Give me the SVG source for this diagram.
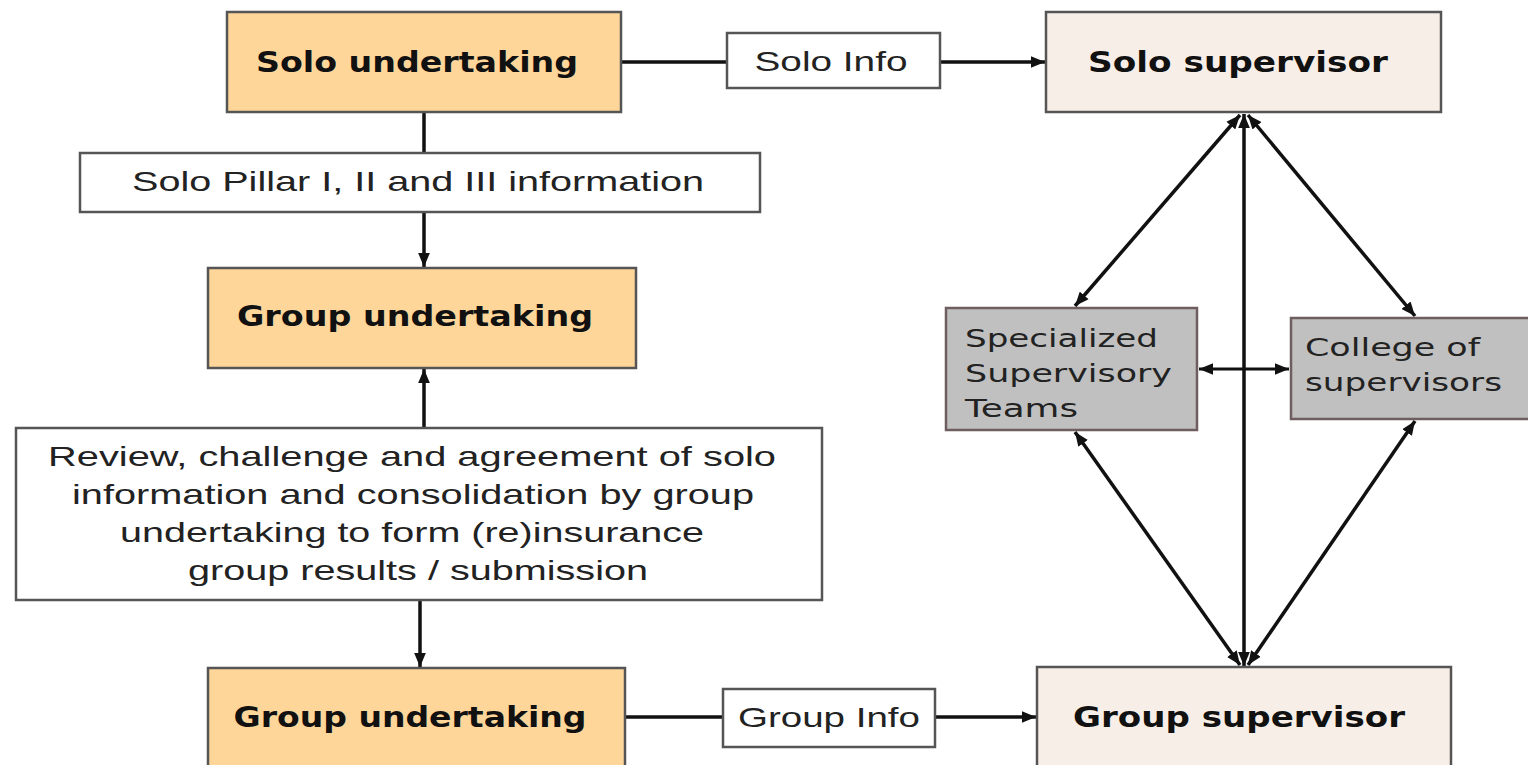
<svg xmlns="http://www.w3.org/2000/svg" width="1528" height="765" viewBox="0 0 1528 765">
<style>
.box{stroke:#555;stroke-width:2.5}
.und{fill:#FFD699}
.sup{fill:#F8EEE8}
.lbl{fill:#fff}
.grey{fill:#C0C0C0;stroke:#6e5e60}
.b{font-family:"DejaVu Sans",Verdana,sans-serif;font-weight:bold;font-size:28px;fill:#111}
.n{font-family:"Liberation Sans",Arial,sans-serif;font-size:28px;fill:#222}
.v{font-family:"DejaVu Sans",Verdana,sans-serif;font-size:25px;fill:#222}
.c{stroke:#111;stroke-width:3.5;fill:none}
.c2{stroke:#111;stroke-width:3;fill:none}
</style>
<defs>
<marker id="ah" viewBox="0 0 12 10" refX="12" refY="5" markerWidth="14" markerHeight="12" markerUnits="userSpaceOnUse" orient="auto-start-reverse">
<path d="M0,0 L12,5 L0,10 z" fill="#111"/>
</marker>
</defs>
<rect width="1528" height="765" fill="#fff"/>

<g id="connectors">
<line class="c" x1="621" y1="62" x2="727" y2="62"/>
<line class="c" x1="940" y1="62" x2="1045" y2="62" marker-end="url(#ah)"/>
<line class="c" x1="424" y1="112" x2="424" y2="153"/>
<line class="c" x1="424" y1="212" x2="424" y2="267" marker-end="url(#ah)"/>
<line class="c" x1="424" y1="428" x2="424" y2="369" marker-end="url(#ah)"/>
<line class="c" x1="420" y1="600" x2="420" y2="667" marker-end="url(#ah)"/>
<line class="c" x1="625" y1="717" x2="723" y2="717"/>
<line class="c" x1="935" y1="717" x2="1036" y2="717" marker-end="url(#ah)"/>
<line class="c" x1="1244" y1="114" x2="1244" y2="666" marker-start="url(#ah)" marker-end="url(#ah)"/>
<line class="c" x1="1240" y1="115" x2="1075" y2="306" marker-start="url(#ah)" marker-end="url(#ah)"/>
<line class="c" x1="1248" y1="115" x2="1415" y2="316" marker-start="url(#ah)" marker-end="url(#ah)"/>
<line class="c" x1="1075" y1="432" x2="1240" y2="665" marker-start="url(#ah)" marker-end="url(#ah)"/>
<line class="c" x1="1415" y1="421" x2="1248" y2="665" marker-start="url(#ah)" marker-end="url(#ah)"/>
<line class="c2" x1="1199" y1="369" x2="1289" y2="369" marker-start="url(#ah)" marker-end="url(#ah)"/>
</g>

<g id="solo-undertaking">
<rect class="box und" x="227" y="12" width="394" height="100"/>
<text class="b" x="417" y="72" text-anchor="middle" textLength="322" lengthAdjust="spacingAndGlyphs">Solo undertaking</text>
</g>
<g id="solo-info">
<rect class="box lbl" x="727" y="33" width="213" height="55"/>
<text class="n" x="831" y="71" text-anchor="middle" textLength="153" lengthAdjust="spacingAndGlyphs">Solo Info</text>
</g>
<g id="solo-supervisor">
<rect class="box sup" x="1046" y="12" width="395" height="100"/>
<text class="b" x="1238" y="72" text-anchor="middle" textLength="300" lengthAdjust="spacingAndGlyphs">Solo supervisor</text>
</g>
<g id="solo-pillar">
<rect class="box lbl" x="80" y="153" width="680" height="59"/>
<text class="n" x="418" y="191" text-anchor="middle" textLength="572" lengthAdjust="spacingAndGlyphs">Solo Pillar I, II and III information</text>
</g>
<g id="group-undertaking-1">
<rect class="box und" x="208" y="268" width="428" height="100"/>
<text class="b" x="415" y="326" text-anchor="middle" textLength="356" lengthAdjust="spacingAndGlyphs">Group undertaking</text>
</g>
<g id="review">
<rect class="box lbl" x="16" y="428" width="806" height="172"/>
<text class="n" x="412" y="466" text-anchor="middle" textLength="728" lengthAdjust="spacingAndGlyphs">Review, challenge and agreement of solo</text>
<text class="n" x="413" y="504" text-anchor="middle" textLength="682" lengthAdjust="spacingAndGlyphs">information and consolidation by group</text>
<text class="n" x="412" y="542" text-anchor="middle" textLength="584" lengthAdjust="spacingAndGlyphs">undertaking to form (re)insurance</text>
<text class="n" x="418" y="580" text-anchor="middle" textLength="460" lengthAdjust="spacingAndGlyphs">group results / submission</text>
</g>
<g id="group-undertaking-2">
<rect class="box und" x="208" y="668" width="417" height="110"/>
<text class="b" x="410" y="727" text-anchor="middle" textLength="353" lengthAdjust="spacingAndGlyphs">Group undertaking</text>
</g>
<g id="group-info">
<rect class="box lbl" x="723" y="689" width="212" height="58"/>
<text class="n" x="829" y="727" text-anchor="middle" textLength="182" lengthAdjust="spacingAndGlyphs">Group Info</text>
</g>
<g id="group-supervisor">
<rect class="box sup" x="1037" y="667" width="414" height="110"/>
<text class="b" x="1239" y="727" text-anchor="middle" textLength="332" lengthAdjust="spacingAndGlyphs">Group supervisor</text>
</g>
<g id="specialized-teams">
<rect class="box grey" x="946" y="308" width="251" height="122"/>
<text class="v" x="965" y="347" textLength="193" lengthAdjust="spacingAndGlyphs">Specialized</text>
<text class="v" x="965" y="382" textLength="207" lengthAdjust="spacingAndGlyphs">Supervisory</text>
<text class="v" x="965" y="417" textLength="113" lengthAdjust="spacingAndGlyphs">Teams</text>
</g>
<g id="college">
<rect class="box grey" x="1291" y="318" width="245" height="101"/>
<text class="v" x="1305" y="356" textLength="175" lengthAdjust="spacingAndGlyphs">College of</text>
<text class="v" x="1305" y="391" textLength="197" lengthAdjust="spacingAndGlyphs">supervisors</text>
</g>
</svg>
